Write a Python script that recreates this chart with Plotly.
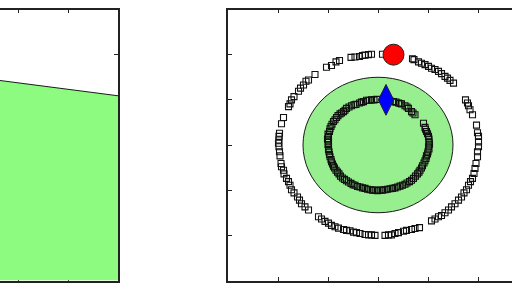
import plotly.graph_objects as go

# ---------------- data ----------------
# left panel: boundary of the filled area
left_x = [3.0, 6.0]
left_y = [4.52, 4.09]

# right panel: outer ring of samples
outer_x = [3.09, 2.87, 2.81, 2.74, 2.69, 2.63, 2.54, 2.46, 2.23, 2.16, 2.07, 1.97, 1.74,
           1.61, 1.56, 1.51, 1.45, 1.41, 1.32, 1.27, 1.24, 1.21, 1.11, 1.07, 1.03, 1.02,
           1.02, 1.01, 1.02, 1.03, 1.04, 1.06, 1.07, 1.11, 1.12, 1.17, 1.21, 1.24, 1.27,
           1.32, 1.39, 1.43, 1.47, 1.54, 1.61,
           1.81, 1.87, 1.94, 2.01, 2.07, 2.14, 2.21, 2.31, 2.37, 2.44, 2.51, 2.57, 2.64,
           2.74, 2.81, 2.87, 2.94, 3.14, 3.21, 3.27, 3.34, 3.41, 3.51, 3.57, 3.67, 3.74, 3.83,
           4.07, 4.14, 4.21, 4.27, 4.34, 4.41, 4.47, 4.54, 4.61, 4.67, 4.72, 4.77, 4.81,
           4.85, 4.89, 4.92, 4.94, 4.96, 4.99, 4.99, 5.01, 5.01, 5.01, 4.99, 4.97,
           4.89, 4.84, 4.81, 4.79, 4.75,
           4.51, 4.44, 4.39, 4.34, 4.27, 4.21, 4.14, 4.07, 4.01, 3.94, 3.87, 3.81, 3.72, 3.69]
outer_y = [5.01, 5.01, 5.00, 4.99, 4.98, 4.96, 4.95, 4.94, 4.87, 4.84, 4.76, 4.72, 4.56,
           4.44, 4.41, 4.33, 4.26, 4.19, 4.07, 4.00, 3.91, 3.85, 3.61, 3.47, 3.26, 3.19,
           3.11, 3.04, 2.96, 2.85, 2.76, 2.59, 2.52, 2.44, 2.36, 2.26, 2.19, 2.11, 2.01,
           1.94, 1.85, 1.78, 1.70, 1.63, 1.56,
           1.41, 1.36, 1.31, 1.27, 1.22, 1.19, 1.16, 1.13, 1.11, 1.10, 1.07, 1.06, 1.04,
           1.02, 1.01, 1.01, 1.00, 1.00, 1.01, 1.01, 1.04, 1.06, 1.09, 1.11, 1.13, 1.15, 1.17,
           1.32, 1.36, 1.41, 1.44, 1.50, 1.56, 1.63, 1.70, 1.78, 1.85, 1.94, 2.01, 2.11,
           2.19, 2.26, 2.37, 2.48, 2.59, 2.74, 2.85, 2.96, 3.07, 3.19, 3.27, 3.44,
           3.67, 3.78, 3.87, 3.93, 4.00,
           4.37, 4.43, 4.48, 4.52, 4.58, 4.63, 4.67, 4.70, 4.74, 4.78, 4.81, 4.84, 4.89, 4.91]

# right panel: inner ring of samples
inner_x = [2.97, 2.87, 2.77, 2.71, 2.63, 2.56, 2.47, 2.37, 2.31, 2.24, 2.17, 2.11, 2.06,
           2.03, 2.01, 2.01, 2.01, 2.02, 2.04, 2.07, 2.11, 2.16, 2.22, 2.29, 2.37, 2.46,
           2.54, 2.64, 2.74, 2.84, 2.94, 3.04, 3.14, 3.24, 3.34, 3.44, 3.54, 3.63, 3.71,
           3.79, 3.84, 3.89, 3.94, 3.97, 4.00, 4.01, 4.02, 4.01, 3.97, 3.94, 3.91,
           3.74, 3.67, 3.61, 3.54, 3.47, 3.41, 3.31,
           2.08, 2.04, 2.00, 1.99, 2.00, 2.01, 2.03, 2.06, 2.09, 2.13, 2.19, 2.25, 2.33,
           2.41, 2.50, 2.59, 2.69, 2.79, 2.89, 2.99, 3.09, 3.19, 3.29, 3.39, 3.49, 3.58,
           3.67, 3.75, 3.82, 3.87, 3.92, 3.96, 3.99, 4.02, 4.03, 4.02, 3.99, 3.95,
           2.92, 2.82, 2.67, 2.52, 2.42, 2.34, 2.27, 2.20, 2.14,
           3.70, 3.58, 3.44, 3.36, 3.24]
inner_y = [4.01, 4.00, 3.99, 3.96, 3.93, 3.90, 3.87, 3.81, 3.74, 3.69, 3.61, 3.52, 3.41,
           3.30, 3.19, 3.07, 2.96, 2.85, 2.74, 2.63, 2.53, 2.44, 2.36, 2.27, 2.21, 2.15,
           2.11, 2.07, 2.04, 2.01, 2.00, 2.00, 2.01, 2.03, 2.05, 2.09, 2.13, 2.19, 2.26,
           2.36, 2.44, 2.54, 2.65, 2.76, 2.85, 2.96, 3.07, 3.19, 3.30, 3.39, 3.48,
           3.67, 3.74, 3.81, 3.87, 3.91, 3.93, 3.96,
           3.46, 3.36, 3.24, 3.13, 3.01, 2.90, 2.79, 2.68, 2.58, 2.49, 2.40, 2.31, 2.24,
           2.18, 2.12, 2.08, 2.05, 2.02, 2.00, 1.99, 2.00, 2.02, 2.04, 2.07, 2.11, 2.16,
           2.22, 2.31, 2.40, 2.49, 2.60, 2.70, 2.80, 2.91, 3.02, 3.13, 3.25, 3.35,
           4.00, 3.99, 3.95, 3.89, 3.84, 3.77, 3.71, 3.65, 3.56,
           3.71, 3.84, 3.92, 3.95, 3.98]

red_x = [3.31]
red_y = [5.00]
blue_x = [3.16]
blue_y = [4.00]

region_center = (3.0, 3.0)
region_radius = 1.5

x_ticks = [1, 2, 3, 4, 5, 6]
y_ticks = [1, 2, 3, 4, 5]

# ---------------- figure ----------------
W, H = 512, 288
left_dom = [0, 118 / W]
right_dom = [228 / W, 1]
y_dom = [1 - 280.5 / H, 1 - 9.5 / H]
ppu = 50.0  # pixels per x unit

fig = go.Figure()

fig.add_trace(go.Scatter(
    x=left_x, y=left_y, mode="lines", fill="tozeroy",
    fillcolor="#8cfb80", line=dict(color="#1a1a1a", width=1),
    xaxis="x", yaxis="y", showlegend=False, hoverinfo="skip"))

sq_marker = dict(symbol="square-open", size=6, color="#111111", line=dict(width=1.1))
fig.add_trace(go.Scatter(
    x=outer_x, y=outer_y, mode="markers", marker=sq_marker,
    xaxis="x2", yaxis="y2", showlegend=False))
fig.add_trace(go.Scatter(
    x=inner_x, y=inner_y, mode="markers", marker=sq_marker,
    xaxis="x2", yaxis="y2", showlegend=False))
fig.add_trace(go.Scatter(
    x=red_x, y=red_y, mode="markers",
    marker=dict(symbol="circle", size=21, color="#ff0000", line=dict(color="#222", width=1)),
    xaxis="x2", yaxis="y2", showlegend=False))
fig.add_trace(go.Scatter(
    x=blue_x, y=blue_y, mode="markers",
    marker=dict(symbol="diamond-tall", size=22, color="#0000ff", line=dict(color="#222", width=1)),
    xaxis="x2", yaxis="y2", showlegend=False))

cx, cy = region_center
fig.add_shape(type="circle", xref="x2", yref="y2",
              x0=cx - region_radius, x1=cx + region_radius,
              y0=cy - region_radius, y1=cy + region_radius,
              fillcolor="#98ef90", line=dict(color="#1a1a1a", width=1), layer="below")

axis_common = dict(showgrid=False, zeroline=False, showticklabels=False,
                   ticks="inside", ticklen=4, tickwidth=1, tickcolor="#222",
                   showline=True, linecolor="#222", linewidth=1.5,
                   layer="below traces", fixedrange=True)

left_w = (left_dom[1] - left_dom[0]) * W / ppu
right_w = (right_dom[1] - right_dom[0]) * W / ppu

fig.update_layout(
    width=W, height=H,
    margin=dict(l=0, r=0, t=0, b=0),
    paper_bgcolor="white", plot_bgcolor="white",
    xaxis=dict(domain=left_dom, range=[6 - left_w, 6], tickvals=x_ticks,
               mirror="ticks", anchor="y", **axis_common),
    yaxis=dict(domain=y_dom, range=[0, 6], tickvals=y_ticks, side="right",
               anchor="x", **axis_common),
    xaxis2=dict(domain=right_dom, range=[0, right_w], tickvals=x_ticks,
                mirror="ticks", anchor="y2", **axis_common),
    yaxis2=dict(domain=y_dom, range=[0, 6], tickvals=y_ticks, side="left",
                anchor="x2", **axis_common),
)

fig.write_html("out.html")
